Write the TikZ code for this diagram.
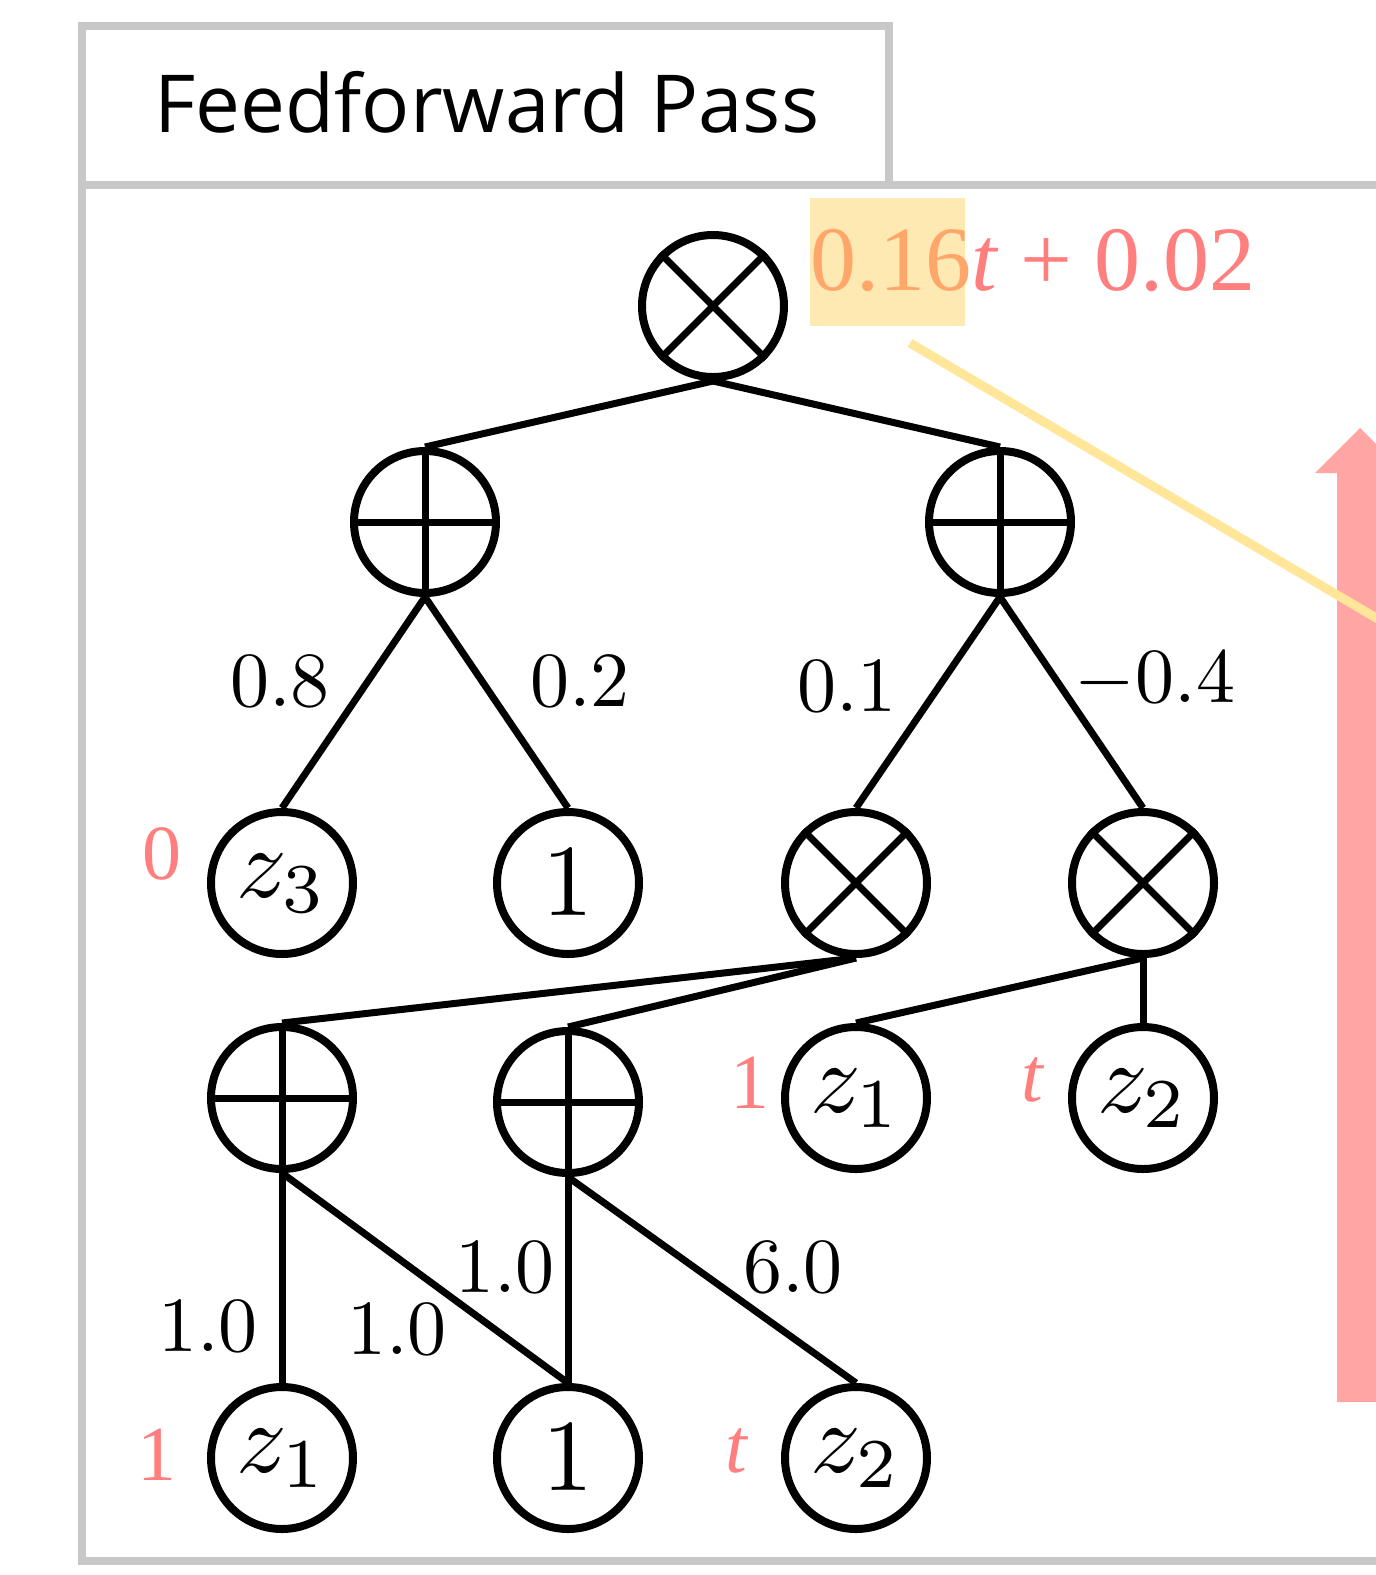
\documentclass[tikz,border=0pt]{standalone}
\usepackage{fix-cm}
\usepackage{graphicx}
\usepackage{fontspec}
\newfontfamily\titlefont{Open Sans}
\newfontfamily\redfont{Liberation Serif}
\definecolor{framegray}{HTML}{C8C8C8}
\definecolor{lblred}{HTML}{FF7F7F}
\definecolor{lblorange}{HTML}{FFA76B}
\definecolor{hlyellow}{HTML}{FFE9B3}
\definecolor{lineyellow}{HTML}{FFE699}
\definecolor{arrowred}{HTML}{FFA5A3}
\newcommand{\bigmath}[2]{\scalebox{#1}{\fontsize{10}{12}\selectfont$#2$}}
\tikzset{
  nd/.style={circle, draw, line width=8pt, minimum size=142pt, inner sep=0pt},
  sym/.style={line width=7pt},
  edge/.style={line width=7pt},
  wlabel/.style={inner sep=0pt},
  rlabel/.style={inner sep=0pt, text=lblred, font=\redfont\fontsize{78}{82}\selectfont},
  frame/.style={draw=framegray, line width=8pt},
}
\begin{document}
\begin{tikzpicture}[x=1pt,y=-1pt]
\useasboundingbox (0,0) rectangle (1376,1575);
\clip (0,0) rectangle (1376,1575);
\fill[white] (0,0) rectangle (1376,1575);
% frames
\draw[frame] (82,185) rectangle (889,26);
\draw[frame] (1400,185) -- (82,185) -- (82,1561) -- (1400,1561);
\node[inner sep=0pt, anchor=base] (title) at (487,132)
  {\titlefont\fontsize{80}{90}\selectfont Feedforward Pass};
% red arrow
\fill[arrowred] (1337,1402) -- (1337,473) -- (1315,473) -- (1360,428) -- (1405,473) -- (1383,473) -- (1383,1402) -- cycle;
% highlight and formula
\fill[hlyellow] (810,198) rectangle (965,326);
\node[inner sep=0pt, anchor=base west] (formula) at (810,290)
  {\redfont\fontsize{92}{100}\selectfont\textcolor{lblorange}{0.16}\textcolor{lblred}{\textit{t}\hspace{22pt}+\hspace{22pt}0.02}};
\coordinate (ylA) at (910,343);
\coordinate (ylB) at (1400,632);
\draw[lineyellow, line width=9pt] (ylA) -- (ylB);
% nodes
\node[nd] (top) at (713,306) {};
\node[nd] (pL) at (425,522) {};
\node[nd] (pR) at (1000,522) {};
\node[nd] (z3) at (282,883) {\bigmath{10}{z_3}};
\node[nd] (oneA) at (568,883) {\bigmath{10.2}{1}};
\node[nd] (xA) at (856,883) {};
\node[nd] (xB) at (1143,883) {};
\node[nd] (pA) at (282,1098) {};
\node[nd] (pB) at (568,1102) {};
\node[nd] (z1a) at (856,1098) {\bigmath{10}{z_1}};
\node[nd] (z2a) at (1143,1098) {\bigmath{10}{z_2}};
\node[nd] (z1b) at (282,1458) {\bigmath{10}{z_1}};
\node[nd] (oneB) at (568,1458) {\bigmath{10.2}{1}};
\node[nd] (z2b) at (856,1458) {\bigmath{10}{z_2}};
% symbols
\foreach \n in {top,xA,xB}{
  \draw[sym] (\n.north east) -- (\n.south west) (\n.north west) -- (\n.south east);
}
\foreach \n in {pL,pR,pA,pB}{
  \draw[sym] (\n.north) -- (\n.south) (\n.west) -- (\n.east);
}
% edges
\draw[edge] (top.south) -- (pL.north);
\draw[edge] (top.south) -- (pR.north);
\draw[edge] (pL.south) -- (z3.north);
\draw[edge] (pL.south) -- (oneA.north);
\draw[edge] (pR.south) -- (xA.north);
\draw[edge] (pR.south) -- (xB.north);
\draw[edge] (xA.south) -- (pA.north);
\draw[edge] (xA.south) -- (pB.north);
\draw[edge] (xB.south) -- (z1a.north);
\draw[edge] (xB.south) -- (z2a.north);
\draw[edge] (pA.south) -- (z1b.north);
\draw[edge] (pA.south) -- (oneB.north);
\draw[edge] (pB.south) -- (oneB.north);
\draw[edge] (pB.south) -- (z2b.north);
% edge labels
\node[wlabel] (w1) at (280,681) {\bigmath{7.8}{0.8}};
\node[wlabel] (w2) at (580,681) {\bigmath{7.8}{0.2}};
\node[wlabel] (w3) at (847,686) {\bigmath{7.8}{0.1}};
\node[wlabel] (w4) at (1155,681) {\bigmath{7.8}{-0.4}};
\node[wlabel] (w5) at (208,1326) {\bigmath{7.8}{1.0}};
\node[wlabel] (w6) at (397,1329) {\bigmath{7.8}{1.0}};
\node[wlabel] (w7) at (505,1267) {\bigmath{7.8}{1.0}};
\node[wlabel] (w8) at (793,1267) {\bigmath{7.8}{6.0}};
% red value labels
\node[rlabel] (r1) at (162,854) {0};
\node[rlabel] (r2) at (750,1083) {1};
\node[rlabel] (r3) at (1033,1080) {\textit{t}};
\node[rlabel] (r4) at (157,1455) {1};
\node[rlabel] (r5) at (737,1451) {\textit{t}};
\end{tikzpicture}
\end{document}
